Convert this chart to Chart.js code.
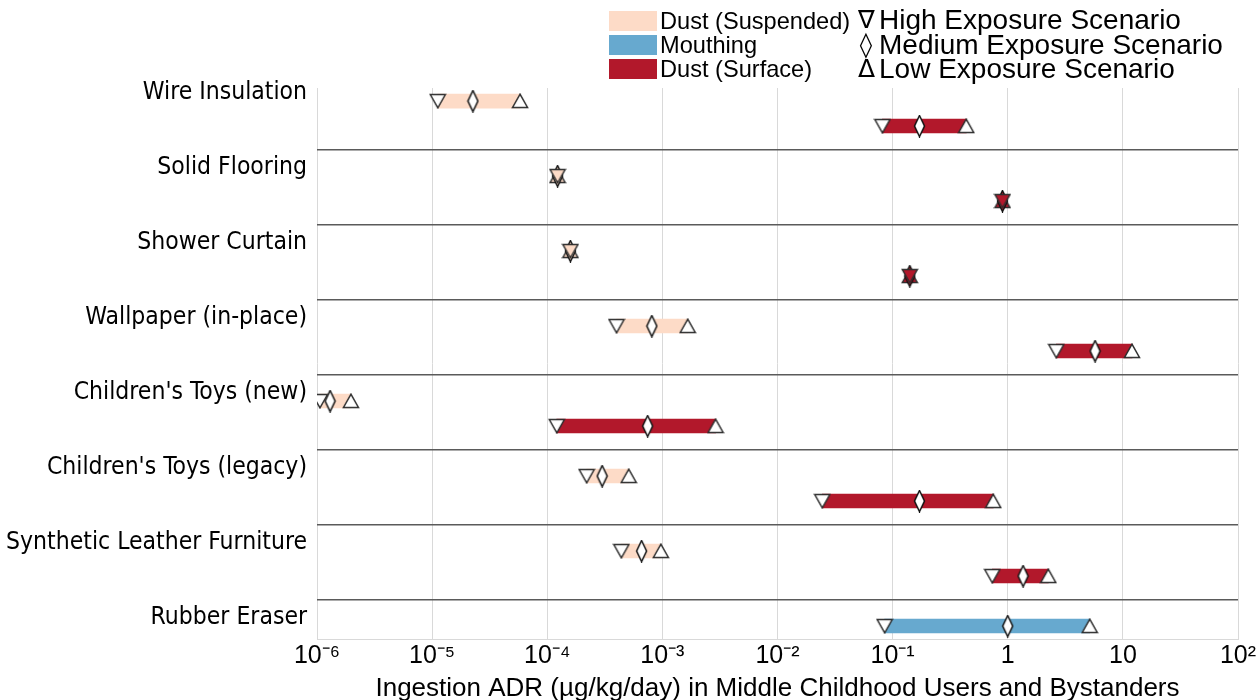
<!DOCTYPE html>
<html>
<head>
<meta charset="utf-8">
<script src="https://cdn.jsdelivr.net/npm/chart.js@4/dist/chart.umd.min.js"></script>
<style>
  html, body { margin: 0; padding: 0; background: #fff; }
  #wrap { position: relative; width: 1260px; height: 700px; }
  #chart { position: absolute; left: 0; top: 0; }
  .legend { position: absolute; font-family: "Liberation Sans", Arial, sans-serif; color: #000; white-space: nowrap; }
  .swatch { position: absolute; width: 48px; height: 20px; }
  .ltext { position: absolute; font-size: 23.6px; line-height: 24px; }
  .sym { position: absolute; font-size: 25px; line-height: 26px; width: 16px; text-align: center; font-family: "DejaVu Sans", sans-serif; }
  .stext { position: absolute; font-size: 28px; line-height: 28px; }
</style>
</head>
<body>
<div id="wrap">
  <canvas id="chart" width="1260" height="700"></canvas>
  <div class="legend" id="legend"></div>
</div>
<script>
// Product categories, top to bottom
const categories = [
  'Wire Insulation',
  'Solid Flooring',
  'Shower Curtain',
  'Wallpaper (in-place)',
  "Children's Toys (new)",
  "Children's Toys (legacy)",
  'Synthetic Leather Furniture',
  'Rubber Eraser'
];

// Ingestion ADR (µg/kg/day) per exposure pathway; null = pathway not assessed
const suspendedHigh   = [1.12e-5, 1.23e-4, 1.59e-4, 4.0e-4, 1.06e-6, 2.2e-4, 4.4e-4, null];
const suspendedMedium = [2.26e-5, 1.23e-4, 1.59e-4, 8.1e-4, 1.30e-6, 3.0e-4, 6.6e-4, null];
const suspendedLow    = [5.8e-5,  1.23e-4, 1.59e-4, 1.66e-3, 1.97e-6, 5.1e-4, 9.7e-4, null];

const surfaceHigh   = [0.0815, 0.90, 0.141, 2.64, 1.21e-4, 0.0245, 0.734, null];
const surfaceMedium = [0.171,  0.90, 0.141, 5.74, 7.45e-4, 0.171,  1.36,  null];
const surfaceLow    = [0.436,  0.90, 0.141, 12.0, 2.90e-3, 0.748,  2.25,  null];

const mouthingHigh   = [null, null, null, null, null, null, null, 0.0853];
const mouthingMedium = [null, null, null, null, null, null, null, 1.0];
const mouthingLow    = [null, null, null, null, null, null, null, 5.15];

// Axis tick labels for each decade
const tickValues = [1e-6, 1e-5, 1e-4, 1e-3, 1e-2, 1e-1, 1, 10, 100];
const tickLabels = ['10\u207B\u2076', '10\u207B\u2075', '10\u207B\u2074', '10\u207B\u00B3', '10\u207B\u00B2', '10\u207B\u00B9', '1', '10', '10\u00B2'];

const pathways = [
  { name: 'Dust (Suspended)', color: '#FDDBC7', slot: 0.347, high: suspendedHigh, medium: suspendedMedium, low: suspendedLow },
  { name: 'Mouthing',         color: '#67A9CF', slot: 0.347, high: mouthingHigh,  medium: mouthingMedium,  low: mouthingLow },
  { name: 'Dust (Surface)',   color: '#B2182B', slot: 0.680, high: surfaceHigh,   medium: surfaceMedium,   low: surfaceLow }
];

const scenarios = [
  { key: 'high',   symbol: '\u2207', label: 'High Exposure Scenario' },
  { key: 'medium', symbol: '\u25CA', label: 'Medium Exposure Scenario' },
  { key: 'low',    symbol: '\u0394', label: 'Low Exposure Scenario' }
];

// Marker glyphs drawn into small canvases
function marker(shape, fill) {
  const c = document.createElement('canvas');
  const w = shape === 'diamond' ? 13 : 18;
  const h = shape === 'diamond' ? 23 : 16;
  c.width = w; c.height = h;
  const g = c.getContext('2d');
  g.beginPath();
  if (shape === 'down') {
    g.moveTo(1.5, 1.5); g.lineTo(w - 1.5, 1.5); g.lineTo(w / 2, h - 1.2);
  } else if (shape === 'up') {
    g.moveTo(w / 2, 1.2); g.lineTo(w - 1.5, h - 1.5); g.lineTo(1.5, h - 1.5);
  } else {
    g.moveTo(w / 2, 1); g.lineTo(w - 1.5, h / 2); g.lineTo(w / 2, h - 1); g.lineTo(1.5, h / 2);
  }
  g.closePath();
  g.fillStyle = fill;
  g.fill();
  g.lineWidth = 1.5;
  g.strokeStyle = shape === 'diamond' ? '#111111' : '#2e2e2e';
  g.stroke();
  return c;
}
const shapeFor = { high: 'down', medium: 'diamond', low: 'up' };

const datasets = [];
pathways.forEach(p => {
  const bars = [];
  categories.forEach((cat, i) => {
    if (p.high[i] == null) return;
    bars.push({ x: [p.high[i], p.low[i]], y: i + p.slot });
  });
  datasets.push({
    type: 'bar',
    label: p.name,
    indexAxis: 'y',
    grouped: false,
    data: bars,
    backgroundColor: p.color,
    borderWidth: 0,
    barThickness: 14,
    order: 2
  });
  scenarios.forEach(s => {
    const pts = [];
    categories.forEach((cat, i) => {
      if (p[s.key][i] == null) return;
      const single = p.high[i] === p.low[i];
      pts.push({ x: p[s.key][i], y: i + p.slot, single: single });
    });
    const plain = marker(shapeFor[s.key], '#ffffff');
    const tinted = marker(shapeFor[s.key], p.color);
    datasets.push({
      type: 'scatter',
      label: p.name + ' ' + s.label,
      data: pts,
      showLine: false,
      pointRadius: 8,
      pointStyle: ctx => (ctx.raw && ctx.raw.single) ? tinted : plain,
      order: 1
    });
  });
});

// Row separators sit on whole-number positions between categories
const separators = categories.slice(1).map((c, i) => i + 1);

new Chart(document.getElementById('chart'), {
  type: 'bar',
  data: { datasets: datasets },
  options: {
    responsive: false,
    animation: false,
    events: [],
    layout: { padding: { top: 88, right: 22, left: 0, bottom: 0 } },
    plugins: { legend: { display: false }, tooltip: { enabled: false } },
    scales: {
      x: {
        type: 'logarithmic',
        position: 'bottom',
        min: 1e-6,
        max: 100,
        offset: false,
        afterBuildTicks: scale => { scale.ticks = tickValues.map(v => ({ value: v })); },
        afterFit: scale => { scale.height = 61; },
        ticks: {
          autoSkip: false,
          maxRotation: 0,
          padding: 2,
          color: '#000',
          font: { family: '"Liberation Sans", Arial, sans-serif', size: 25 },
          callback: (v, idx) => tickLabels[idx]
        },
        grid: { color: '#d9d9d9', lineWidth: 1, drawTicks: false, offset: false },
        border: { color: '#d9d9d9', width: 1 },
        title: {
          display: true,
          text: 'Ingestion ADR (\u00B5g/kg/day) in Middle Childhood Users and Bystanders',
          color: '#000',
          font: { family: '"Liberation Sans", Arial, sans-serif', size: 26 },
          padding: { top: 7, bottom: -4 }
        }
      },
      y: {
        type: 'linear',
        position: 'left',
        reverse: true,
        min: 0.173,
        max: 7.52,
        offset: false,
        afterBuildTicks: scale => { scale.ticks = categories.map((c, i) => ({ value: i + 0.24 })); },
        afterFit: scale => { scale.width = 317; },
        ticks: {
          autoSkip: false,
          padding: 10,
          color: '#000',
          font: { family: '"DejaVu Sans Condensed", "DejaVu Sans", sans-serif', size: 24.5 },
          callback: (v, idx) => categories[idx]
        },
        grid: { display: false, drawTicks: false, offset: false },
        border: { display: false }
      },
      ySep: {
        type: 'linear',
        position: 'left',
        reverse: true,
        min: 0.173,
        max: 7.52,
        offset: false,
        afterBuildTicks: scale => { scale.ticks = separators.map(v => ({ value: v })); },
        afterFit: scale => { scale.width = 0; },
        ticks: { display: false },
        grid: { color: '#5a5a5a', lineWidth: 1.5, drawTicks: false, offset: false },
        border: { display: false }
      }
    }
  }
});

// Legend: pathway colours on the left, scenario glyphs on the right
const legend = document.getElementById('legend');
pathways.forEach((p, i) => {
  const sw = document.createElement('div');
  sw.className = 'swatch';
  sw.style.left = '609px';
  sw.style.top = (11 + i * 24) + 'px';
  sw.style.background = p.color;
  legend.appendChild(sw);
  const t = document.createElement('div');
  t.className = 'ltext';
  t.style.left = '660px';
  t.style.top = (9 + i * 24) + 'px';
  t.textContent = p.name;
  legend.appendChild(t);
});
scenarios.forEach((s, i) => {
  const sy = document.createElement('div');
  sy.className = 'sym';
  sy.style.left = '858px';
  sy.style.top = (7 + i * 24.5) + 'px';
  sy.textContent = s.symbol;
  legend.appendChild(sy);
  const t = document.createElement('div');
  t.className = 'stext';
  t.style.left = '879px';
  t.style.top = (6 + i * 24.5) + 'px';
  t.textContent = s.label;
  legend.appendChild(t);
});
</script>
</body>
</html>
